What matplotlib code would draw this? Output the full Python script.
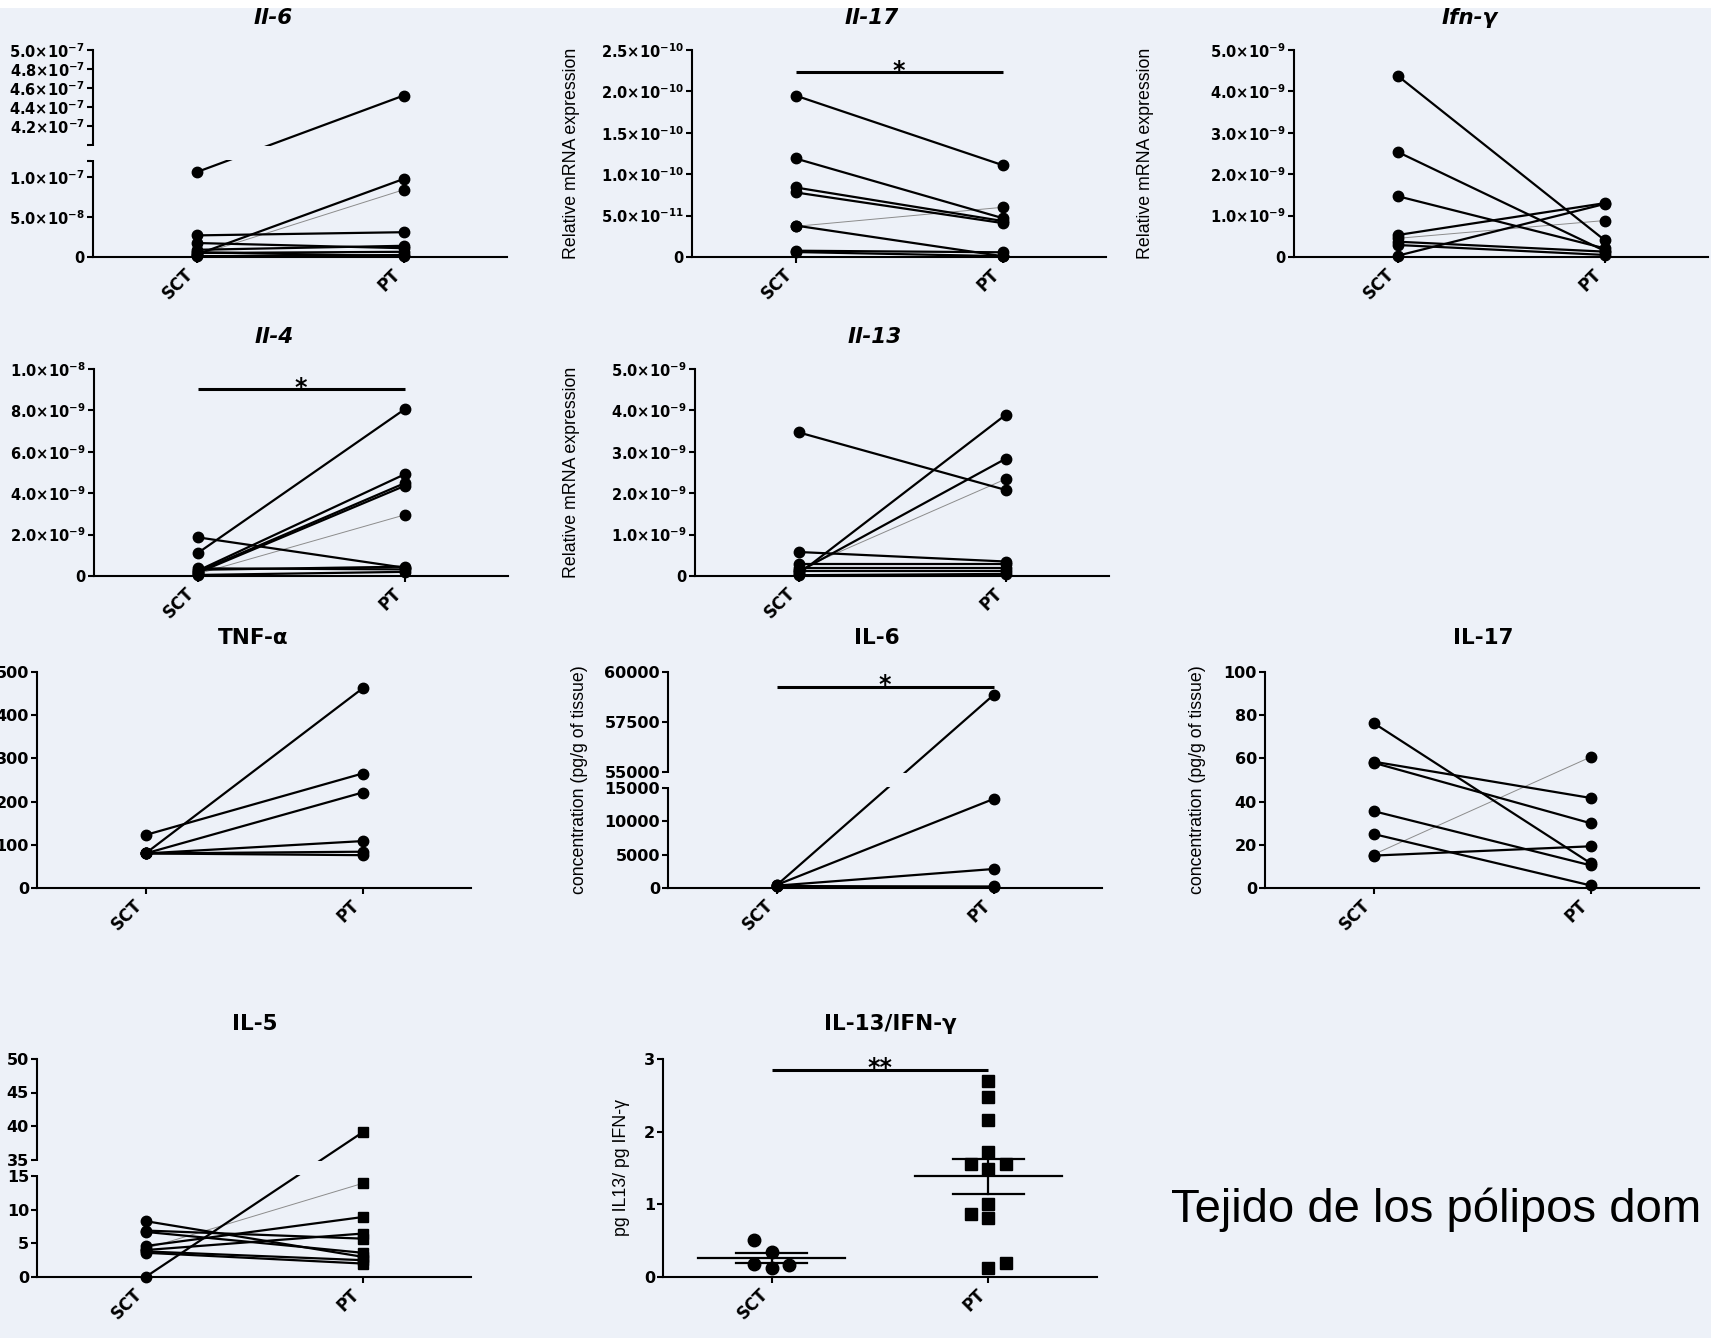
import numpy as np
import matplotlib
matplotlib.use('Agg')
import matplotlib.pyplot as plt
from matplotlib.patches import Rectangle
from matplotlib import transforms

W, H = 1711, 1338
BG = '#edf1f8'

plt.rcParams['font.family'] = ['DejaVu Sans']
plt.rcParams['font.weight'] = 'bold'
plt.rcParams['mathtext.fontset'] = 'dejavusans'
plt.rcParams['mathtext.default'] = 'bf'

groups = ['SCT', 'PT']

# mRNA panels (relative expression), paired SCT -> PT
il6_sct = [1.06e-7, 2.7e-8, 3e-9, 2e-9, 1.75e-8, 9e-9, 5e-9, 1e-9, 6e-9]
il6_pt = [4.52e-7, 3.1e-8, 9.75e-8, 8.4e-8, 1.1e-8, 1.4e-8, 6.5e-9, 2.5e-9, 1e-9]

il17_sct = [1.95e-10, 1.19e-10, 0.84e-10, 0.78e-10, 0.37e-10, 0.38e-10, 0.076e-10, 0.06e-10]
il17_pt = [1.11e-10, 0.47e-10, 0.435e-10, 0.41e-10, 0.60e-10, 0.01e-10, 0.057e-10, 0.01e-10]

ifng_sct = [4.38e-9, 2.54e-9, 1.47e-9, 0.53e-9, 0.03e-9, 0.45e-9, 0.37e-9, 0.29e-9]
ifng_pt = [0.41e-9, 0.15e-9, 0.21e-9, 1.30e-9, 1.28e-9, 0.88e-9, 0.13e-9, 0.05e-9]

il4_sct = [1.10e-9, 1.87e-9, 0.25e-9, 0.2e-9, 0.15e-9, 0.1e-9, 0.37e-9, 0.05e-9, 0.3e-9]
il4_pt = [8.05e-9, 0.40e-9, 4.91e-9, 4.48e-9, 4.35e-9, 2.95e-9, 0.32e-9, 0.2e-9, 0.45e-9]

il13_sct = [3.47e-9, 0.05e-9, 0.1e-9, 0.15e-9, 0.58e-9, 0.28e-9, 0.2e-9, 0.12e-9, 0.02e-9]
il13_pt = [2.08e-9, 3.89e-9, 2.83e-9, 2.34e-9, 0.35e-9, 0.28e-9, 0.2e-9, 0.12e-9, 0.05e-9]

# protein panels (pg/g of tissue)
tnf_sct = [80, 122.7, 80, 80, 80, 80]
tnf_pt = [462, 265, 221, 108.6, 84, 76]

il6p_sct = [400, 450, 350, 300, 250]
il6p_pt = [58850, 13350, 2850, 200, 350]

il17p_sct = [76.4, 58.5, 58, 35.6, 25, 15, 15.5]
il17p_pt = [11.5, 41.7, 30, 10.5, 1.2, 19.3, 60.6]

il5_sct = [0, 4.2, 8.3, 6.9, 6.7, 4.6, 4.0, 3.8, 3.6]
il5_pt = [39.05, 13.9, 3.0, 5.7, 3.6, 8.9, 6.45, 2.5, 2.0]

# IL-13/IFN-g ratio
ratio_sct = [0.51, 0.34, 0.18, 0.13, 0.17]
ratio_pt = [2.70, 2.48, 2.16, 1.72, 1.55, 1.55, 1.48, 1.01, 0.87, 0.81, 0.12, 0.19]
sct_offsets = [-0.08, 0, -0.08, 0, 0.08]
pt_offsets = [0, 0, 0, 0, -0.08, 0.08, 0, 0, -0.08, 0, 0, 0.08]


def sci(m, e):
    return f"{m:.1f}×10$^{{{e}}}$"


def piecewise(xp, fp):
    def make(a, b):
        a = np.asarray(a, float)
        b = np.asarray(b, float)

        def f(v):
            v = np.asarray(v, float)
            out = np.interp(v, a, b)
            out = np.where(v < a[0], b[0] + (v - a[0]) * (b[1] - b[0]) / (a[1] - a[0]), out)
            out = np.where(v > a[-1], b[-1] + (v - a[-1]) * (b[-1] - b[-2]) / (a[-1] - a[-2]), out)
            return out
        return f
    return make(xp, fp), make(fp, xp)


fig = plt.figure(figsize=(W / 100, H / 100), dpi=100, facecolor=BG)
fig.patches.append(Rectangle((0, 1 - 8 / H), 1, 8 / H, transform=fig.transFigure,
                             facecolor='white', edgecolor='none', zorder=0))


def make_axes(box, ymax, ticks, labels, fsize, brk=None):
    left, top, width, height = box
    ax = fig.add_axes([left / W, 1 - (top + height) / H, width / W, height / H])
    ax.patch.set_visible(False)
    ax.set_axisbelow(False)
    if brk is not None:
        fwd, inv = piecewise(*brk)
        ax.set_yscale('function', functions=(fwd, inv))
    ax.set_xlim(-0.5, 1.5)
    ax.set_ylim(0, ymax)
    for s in ('top', 'right'):
        ax.spines[s].set_visible(False)
    for s in ('left', 'bottom'):
        ax.spines[s].set_linewidth(1.5)
    ax.set_xticks([0, 1])
    ax.set_xticklabels(groups, rotation=45, ha='right', fontsize=12, fontweight='bold')
    ax.set_yticks(ticks)
    ax.set_yticklabels(labels, fontsize=fsize, fontweight='bold')
    ax.tick_params(direction='out', length=4.3, width=1.5, pad=1.5)
    if brk is not None:
        lo = float(inv(brk[1][1] + 1.0))
        hi = float(inv(brk[1][2] - 1.0))
        ax.axhspan(lo, hi, xmin=-0.006, xmax=1.0, facecolor=BG, edgecolor='none',
                   zorder=2.6, clip_on=False)
    return ax


def pairs(ax, sct, pt, thin=None, pt_marker='o'):
    for i, (a, b) in enumerate(zip(sct, pt)):
        if i == thin:
            ax.plot([0, 1], [a, b], color='#8c8c8c', lw=0.7, zorder=1.9, clip_on=False)
        else:
            ax.plot([0, 1], [a, b], color='black', lw=1.6, zorder=2, clip_on=False)
    ax.plot(np.zeros(len(sct)), sct, ls='none', marker='o', ms=7.5, color='black',
            zorder=3, clip_on=False)
    ax.plot(np.ones(len(pt)), pt, ls='none', marker=pt_marker, ms=7.5, color='black',
            zorder=3, clip_on=False)


def title(ax, text, frac, dy, italic=False):
    tr = transforms.offset_copy(ax.transAxes, fig=fig, y=dy, units='dots')
    ax.text(frac, 1, text, transform=tr, ha='center', va='center', fontsize=15.5,
            fontweight='bold', fontstyle='italic' if italic else 'normal')


def ylab(ax, text, dist, width):
    ax.text(-dist / width, 0.5, text, transform=ax.transAxes, rotation=90, ha='center',
            va='center', fontsize=12.8, fontweight='normal', family='Liberation Sans')


def sig(ax, y, label):
    ax.plot([0, 1], [y, y], color='black', lw=2.2, solid_capstyle='butt', clip_on=False)
    tr = transforms.offset_copy(ax.transData, fig=fig, y=-4, units='points')
    ax.text(0.5, y, label, transform=tr, ha='center', va='baseline', fontsize=17,
            fontweight='bold')


# ---- row 1 ----
ax = make_axes((93, 50, 414, 207), 5.0e-7,
               [0, 5e-8, 1e-7, 1.2e-7, 4.0e-7, 4.2e-7, 4.4e-7, 4.6e-7, 4.8e-7, 5.0e-7],
               ['0', sci(5.0, -8), sci(1.0, -7), '', '', sci(4.2, -7), sci(4.4, -7),
                sci(4.6, -7), sci(4.8, -7), sci(5.0, -7)], 10.5,
               brk=([0, 1.2e-7, 4.0e-7, 5.0e-7], [0, 96, 112, 207]))
pairs(ax, il6_sct, il6_pt, thin=3)
title(ax, 'Il-6', 0.435, 32, italic=True)

ax = make_axes((692, 50, 414, 207), 2.5e-10,
               [0, 5e-11, 1e-10, 1.5e-10, 2e-10, 2.5e-10],
               ['0', sci(5.0, -11), sci(1.0, -10), sci(1.5, -10), sci(2.0, -10), sci(2.5, -10)], 10.5)
pairs(ax, il17_sct, il17_pt, thin=4)
sig(ax, 2.23e-10, '*')
title(ax, 'Il-17', 0.435, 32, italic=True)
ylab(ax, 'Relative mRNA expression', 120, 414)

ax = make_axes((1294, 50, 414, 207), 5e-9,
               [0, 1e-9, 2e-9, 3e-9, 4e-9, 5e-9],
               ['0'] + [sci(v, -9) for v in (1.0, 2.0, 3.0, 4.0, 5.0)], 10.5)
pairs(ax, ifng_sct, ifng_pt, thin=5)
title(ax, 'Ifn-γ', 0.423, 32, italic=True)
ylab(ax, 'Relative mRNA expression', 148, 414)

# ---- row 2 ----
ax = make_axes((94, 369, 414, 207), 1e-8,
               [0, 2e-9, 4e-9, 6e-9, 8e-9, 1e-8],
               ['0'] + [sci(v, -9) for v in (2.0, 4.0, 6.0, 8.0)] + [sci(1.0, -8)], 10.5)
pairs(ax, il4_sct, il4_pt, thin=5)
sig(ax, 9.03e-9, '*')
title(ax, 'Il-4', 0.435, 32, italic=True)

ax = make_axes((695, 369, 414, 207), 5e-9,
               [0, 1e-9, 2e-9, 3e-9, 4e-9, 5e-9],
               ['0'] + [sci(v, -9) for v in (1.0, 2.0, 3.0, 4.0, 5.0)], 10.5)
pairs(ax, il13_sct, il13_pt, thin=3)
title(ax, 'Il-13', 0.435, 32, italic=True)
ylab(ax, 'Relative mRNA expression', 123, 414)

# ---- row 3 ----
ax = make_axes((37, 672, 434, 216), 500, [0, 100, 200, 300, 400, 500],
               ['0', '100', '200', '300', '400', '500'], 11.5)
pairs(ax, tnf_sct, tnf_pt)
title(ax, 'TNF-α', 0.498, 34)

ax = make_axes((668, 672, 434, 216), 60000,
               [0, 5000, 10000, 15000, 55000, 57500, 60000],
               ['0', '5000', '10000', '15000', '55000', '57500', '60000'], 11.5,
               brk=([0, 15000, 55000, 60000], [0, 100, 116, 216]))
pairs(ax, il6p_sct, il6p_pt, thin=4)
sig(ax, 59267, '*')
title(ax, 'IL-6', 0.48, 34)
ylab(ax, 'concentration (pg/g of tissue)', 89, 434)

ax = make_axes((1265, 672, 434, 216), 100, [0, 20, 40, 60, 80, 100],
               ['0', '20', '40', '60', '80', '100'], 11.5)
pairs(ax, il17p_sct, il17p_pt, thin=6)
title(ax, 'IL-17', 0.502, 34)
ylab(ax, 'concentration (pg/g of tissue)', 67, 434)

# ---- row 4 ----
ax = make_axes((37, 1059, 434, 218), 50, [0, 5, 10, 15, 35, 40, 45, 50],
               ['0', '5', '10', '15', '35', '40', '45', '50'], 11.5,
               brk=([0, 15, 35, 50], [0, 101, 117.5, 218]))
pairs(ax, il5_sct, il5_pt, thin=1, pt_marker='s')
title(ax, 'IL-5', 0.502, 35)

ax = make_axes((663, 1059, 434, 218), 3, [0, 1, 2, 3], ['0', '1', '2', '3'], 11.5)
for xc, vals, offs, mk in ((0, ratio_sct, sct_offsets, 'o'), (1, ratio_pt, pt_offsets, 's')):
    vals = np.asarray(vals)
    ax.plot(xc + np.asarray(offs), vals, ls='none', marker=mk, ms=9, color='black',
            zorder=3, clip_on=False)
    m = vals.mean()
    se = vals.std(ddof=1) / np.sqrt(len(vals))
    ax.plot([xc - 0.34, xc + 0.34], [m, m], color='black', lw=1.6, zorder=4)
    ax.plot([xc - 0.165, xc + 0.165], [m + se, m + se], color='black', lw=1.6, zorder=4)
    ax.plot([xc - 0.165, xc + 0.165], [m - se, m - se], color='black', lw=1.6, zorder=4)
    ax.plot([xc, xc], [m - se, m + se], color='black', lw=1.6, zorder=4)
sig(ax, 2.85, '**')
title(ax, 'IL-13/IFN-γ', 0.523, 35)
ylab(ax, 'pg IL13/ pg IFN-γ', 42, 434)

fig.text(1171 / W, 1 - 1222 / H, 'Tejido de los pólipos dom', fontsize=34,
         fontweight='normal', family='Liberation Sans', va='baseline', ha='left')

fig.savefig('out.png', dpi=100, facecolor=BG)
